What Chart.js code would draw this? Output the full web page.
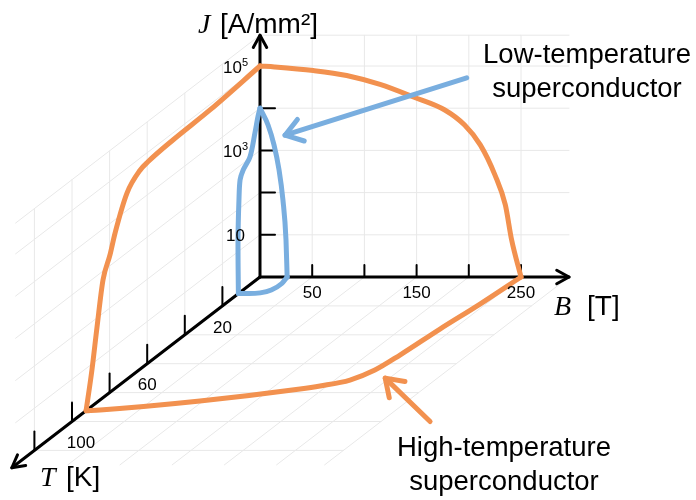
<!DOCTYPE html>
<html>
<head>
<meta charset="utf-8">
<script src="https://cdn.jsdelivr.net/npm/chart.js@4.4.1/dist/chart.umd.min.js"></script>
<style>
  html, body { margin: 0; padding: 0; background: #ffffff; }
  #wrap { width: 696px; height: 500px; }
</style>
</head>
<body>
<div id="wrap"><canvas id="c" width="696" height="500"></canvas></div>
<script>
// ---------- axis ticks ----------
const bTicks = [50, 100, 150, 200, 250];          // magnetic field B [T]
const bTickLabels = [50, 150, 250];
const tTicks = [20, 40, 60, 80, 100, 120];        // temperature T [K]
const tTickLabels = [20, 60, 100];
const jTicks = [10, 100, 1000, 10000, 100000];    // current density J [A/mm²]
const jTickLabelExps = [1, 3, 5];

// ---------- high-temperature superconductor: edges of the critical surface ----------
// J–T face (B = 0)
const htsJT_T = [92.5, 89.4, 86.7, 83.5, 79.8, 77.1, 70.7, 63.8, 59.6, 46.3, 26.6, 0];
const htsJT_J = [1, 7.2, 60, 620, 1800, 4800, 26000, 52000, 59000, 68000, 74000, 100000];
// J–B face (T = 0)
const htsJB_B = [0, 14, 51, 83, 115, 147, 177, 196, 211, 225, 235, 241, 250];
const htsJB_J = [100000, 95000, 78200, 59600, 36500, 18400, 9060, 3980, 1350, 263, 51, 7.6, 1];
// B–T face (J = 1)
const htsBT_B = [250, 244.4, 237.2, 231.3, 226, 214.6, 193.3, 177.9, 97, 12.5, 0];
const htsBT_T = [0, 18.7, 36, 54, 64.4, 71.3, 75.4, 77.5, 85.8, 92, 92.5];

// ---------- low-temperature superconductor ----------
const ltsJT_T = [11.5, 11.7, 11.2, 10.6, 9.0, 5.3, 2.7, 1.1, 0];
const ltsJT_J = [1, 19, 160, 460, 690, 1070, 3200, 6800, 10000];
const ltsJB_B = [0, 7.7, 13.4, 18.2, 22, 24.9, 26];
const ltsJB_J = [10000, 4000, 1350, 350, 66, 7.6, 1];
const ltsBT_B = [26, 29, 27, 20, 10, 0];
const ltsBT_T = [0, 4.5, 9, 11, 11.5, 11.5];

// ---------- pointers from the captions to the curves ----------
const ltsPointerB = [198, 24];            // on the T = 0 face
const ltsPointerJ = [52500, 2290];
const htsPointerB = [343, 246];           // on the J = 1 floor
const htsPointerT = [100, 70];

// ---------- oblique projection of (B, T, J) onto the page ----------
const AX = { bMax: 296, tMax: 132, jMaxExp: 5.73, gridTMax: 130 };
const K = { b: 1.044, tx: 1.88, ty: 1.445, j: 42.2 };
function P(B, T, J) {
  const e = Math.log10(J);
  return { x: K.b * B - K.tx * T, y: K.j * e - K.ty * T };
}
const zip = (a, b, f) => a.map((v, i) => f(v, b[i]));

const ORANGE = '#F2914F';
const BLUE = '#79AEDF';
const GRID = '#e8e8e8';
const datasets = [];
function line(points, color, width, order, smooth) {
  const ds = {
    data: points, showLine: true, borderColor: color, borderWidth: width,
    pointRadius: 0, order: order, fill: false,
    borderCapStyle: 'round', borderJoinStyle: 'round'
  };
  if (smooth === 'mono') ds.cubicInterpolationMode = 'monotone';
  else if (smooth) ds.tension = smooth;
  datasets.push(ds);
}

// background grid on the three faces
const jTop = Math.pow(10, AX.jMaxExp);
bTicks.forEach(b => {
  line([P(b, 0, 1), P(b, 0, jTop)], GRID, 1, 5);
  line([P(b, 0, 1), P(b, AX.gridTMax, 1)], GRID, 1, 5);
});
line([P(AX.bMax, 0, 1), P(AX.bMax, AX.gridTMax, 1)], GRID, 1, 5);
tTicks.forEach(t => {
  line([P(0, t, 1), P(0, t, jTop)], GRID, 1, 5);
  line([P(0, t, 1), P(AX.bMax, t, 1)], GRID, 1, 5);
});
jTicks.concat([jTop]).forEach(j => {
  line([P(0, 0, j), P(AX.bMax, 0, j)], GRID, 1, 5);
  line([P(0, 0, j), P(0, AX.gridTMax, j)], GRID, 1, 5);
});

// axes and ticks
line([P(0, 0, 1), P(AX.bMax, 0, 1)], '#000', 3, 3);
line([P(0, 0, 1), P(0, 0, jTop)], '#000', 3, 3);
line([P(0, 0, 1), P(0, AX.tMax, 1)], '#000', 3, 3);
const bTickLen = 12 / K.j, jTickLen = 15 / K.b, tTickLen = 19 / K.j;
bTicks.forEach(b => line([P(b, 0, 1), P(b, 0, Math.pow(10, bTickLen))], '#000', 2, 3));
jTicks.forEach(j => line([P(0, 0, j), P(jTickLen, 0, j)], '#000', 2, 3));
tTicks.forEach(t => line([P(0, t, 1), P(0, t, Math.pow(10, tTickLen))], '#000', 2, 3));

// superconductor boundaries
line(zip(htsJT_T, htsJT_J, (t, j) => P(0, t, j)), ORANGE, 5, 1, 'mono');
line(zip(htsJB_B, htsJB_J, (b, j) => P(b, 0, j)), ORANGE, 5, 1, 'mono');
line(zip(htsBT_B, htsBT_T, (b, t) => P(b, t, 1)).reverse(), ORANGE, 5, 1, 'mono');
line(zip(ltsJT_T, ltsJT_J, (t, j) => P(0, t, j)), BLUE, 5, 1, 0.3);
line(zip(ltsJB_B, ltsJB_J, (b, j) => P(b, 0, j)), BLUE, 5, 1, 'mono');
line(zip(ltsBT_B, ltsBT_T, (b, t) => P(b, t, 1)).reverse(), BLUE, 5, 1, 'mono');

// caption pointers
const ltsPtr = zip(ltsPointerB, ltsPointerJ, (b, j) => P(b, 0, j));
const htsPtr = zip(htsPointerB, htsPointerT, (b, t) => P(b, t, 1));
line(ltsPtr, BLUE, 5, 0);
line(htsPtr, ORANGE, 5, 0);

function chevron(ctx, tip, from, len, ang, color, width) {
  const a = Math.atan2(from.y - tip.y, from.x - tip.x);
  ctx.save();
  ctx.strokeStyle = color; ctx.lineWidth = width;
  ctx.lineCap = 'round'; ctx.lineJoin = 'round';
  ctx.beginPath();
  ctx.moveTo(tip.x + len * Math.cos(a + ang), tip.y + len * Math.sin(a + ang));
  ctx.lineTo(tip.x, tip.y);
  ctx.lineTo(tip.x + len * Math.cos(a - ang), tip.y + len * Math.sin(a - ang));
  ctx.stroke();
  ctx.restore();
}

const SANS = '"Liberation Sans", Arial, sans-serif';
const SERIF = '"Liberation Serif", "Times New Roman", serif';

const overlay = {
  id: 'overlay',
  afterDatasetsDraw(chart) {
    const ctx = chart.ctx, xs = chart.scales.x, ys = chart.scales.y;
    const pix = p => ({ x: xs.getPixelForValue(p.x), y: ys.getPixelForValue(p.y) });
    const o = pix(P(0, 0, 1));

    // axis arrow heads
    chevron(ctx, pix(P(AX.bMax, 0, 1)), o, 14, 0.5, '#000', 3);
    chevron(ctx, pix(P(0, 0, jTop)), o, 14, 0.5, '#000', 3);
    chevron(ctx, pix(P(0, AX.tMax, 1)), o, 14, 0.5, '#000', 3);
    // caption pointer heads
    chevron(ctx, pix(ltsPtr[1]), pix(ltsPtr[0]), 20, 0.6, BLUE, 5);
    chevron(ctx, pix(htsPtr[1]), pix(htsPtr[0]), 20, 0.6, ORANGE, 5);

    ctx.save();
    ctx.fillStyle = '#000';
    // B tick labels
    ctx.font = '17px ' + SANS;
    ctx.textAlign = 'center'; ctx.textBaseline = 'middle';
    bTickLabels.forEach(b => {
      const p = pix(P(b, 0, 1));
      ctx.fillText(String(b), p.x, p.y + 16);
    });
    // T tick labels
    tTickLabels.forEach(t => {
      const p = pix(P(0, t, 1));
      ctx.fillText(String(t), p.x + (t >= 100 ? 9 : 0), p.y + 22);
    });
    // J tick labels 10^n
    jTickLabelExps.forEach(e => {
      const p = pix(P(0, 0, Math.pow(10, e)));
      const right = p.x - 12;
      if (e === 1) {
        ctx.font = '17px ' + SANS; ctx.textAlign = 'right';
        ctx.fillText('10', right - 3, p.y + 2);
      } else {
        ctx.font = '11px ' + SANS; ctx.textAlign = 'right';
        ctx.fillText(String(e), right, p.y - 3);
        const w = ctx.measureText(String(e)).width;
        ctx.font = '17px ' + SANS;
        ctx.fillText('10', right - w, p.y + 2);
      }
    });

    // axis titles
    ctx.textBaseline = 'alphabetic'; ctx.textAlign = 'left';
    ctx.font = 'italic 28px ' + SERIF;
    ctx.fillText('J', 198, 33);
    ctx.fillText('B', 554, 315);
    ctx.fillText('T', 40, 486);
    ctx.font = '28px ' + SANS;
    ctx.fillText('[A/mm\u00B2]', 220, 33);
    ctx.fillText('[T]', 587, 315);
    ctx.fillText('[K]', 66, 486);

    // captions
    ctx.textAlign = 'center';
    ctx.font = '27.5px ' + SANS;
    ctx.fillText('Low-temperature', 587, 63);
    ctx.fillText('superconductor', 587, 97);
    ctx.fillText('High-temperature', 504, 456);
    ctx.fillText('superconductor', 504, 490);
    ctx.restore();
  }
};

new Chart(document.getElementById('c'), {
  type: 'scatter',
  data: { datasets: datasets },
  options: {
    responsive: false,
    animation: false,
    events: [],
    layout: { padding: 0 },
    scales: {
      x: { type: 'linear', min: -260, max: 436, display: false },
      y: { type: 'linear', min: -223, max: 277, display: false }
    },
    plugins: { legend: { display: false }, tooltip: { enabled: false } }
  },
  plugins: [overlay]
});
</script>
</body>
</html>
